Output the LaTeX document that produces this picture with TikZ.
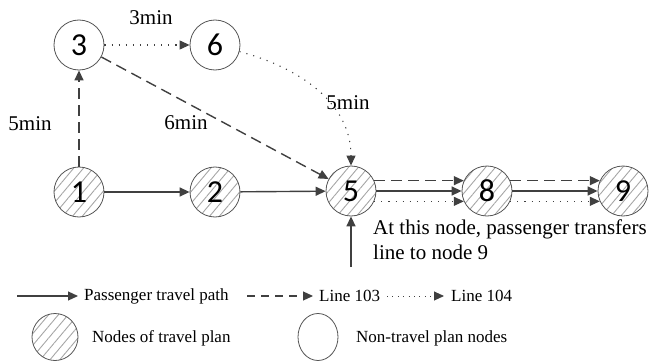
\documentclass[tikz,border=0pt]{standalone}
\usepackage{fontspec}
\setmainfont{Liberation Serif}
\newfontfamily\numfont{Carlito}
\usetikzlibrary{arrows.meta,patterns.meta,shapes.geometric}
\definecolor{ink}{HTML}{404040}
\definecolor{rim}{HTML}{555555}
\tikzset{
  stn/.style={circle,draw=rim,line width=0.8pt,minimum size=50pt,inner sep=0pt,
    font=\numfont\fontsize{32}{36}\selectfont},
  plan/.style={stn,pattern={Lines[angle=50,distance=7.5pt,line width=0.9pt]},pattern color=black!35},
  tip/.style={-{Triangle[length=10pt,width=9pt]}},
  walk/.style={tip,draw=ink,line width=1.4pt},
  dashln/.style={tip,draw=ink,line width=1.4pt,dash pattern=on 11pt off 6pt},
  dotln/.style={tip,draw=ink,line width=1.1pt,dash pattern=on 1.1pt off 6pt},
  lbl/.style={font=\rmfamily\fontsize{21}{25}\selectfont,inner sep=0pt},
  leg/.style={font=\rmfamily\fontsize{17}{20}\selectfont,inner sep=0pt,anchor=west},
}
\begin{document}
\begin{tikzpicture}[x=1pt,y=1pt]
\useasboundingbox (0,0) rectangle (651,-361);
% stations
\node[plan] (n1) at (79,-192) {1};
\node[plan] (n2) at (215,-192) {2};
\node[stn]  (n3) at (79,-45) {3};
\node[stn]  (n6) at (215,-45) {6};
\node[plan] (n5) at (351,-191) {5};
\node[plan] (n8) at (487,-191) {8};
\node[plan] (n9) at (623,-191) {9};
% connections
\draw[dashln] (n1) -- (n3);
\draw[dotln] (n3) -- (n6);
\draw[dashln] (n3) -- (n5);
\draw[dotln] (n6) to[out=-15,in=90] (n5);
\draw[walk] (n1) -- (n2);
\draw[walk] (n2) -- (n5);
\draw[dashln] (n5.24) -- (n8.156);
\draw[walk] (n5) -- (n8);
\draw[dotln] (n5.-24) -- (n8.-156);
\draw[dashln] (n8.24) -- (n9.156);
\draw[walk] (n8) -- (n9);
\draw[dotln] (n8.-24) -- (n9.-156);
\coordinate (below5) at (351,-267);
\draw[walk] (below5) -- (n5);
% travel times
\node[lbl] (t13) at (30,-124) {5min};
\node[lbl] (t36) at (151,-18) {3min};
\node[lbl] (t35) at (186,-123) {6min};
\node[lbl] (t65) at (348,-103) {5min};
\node[lbl,anchor=west,align=left] (note) at (373,-240) {At this node, passenger transfers\\line to node 9};
% legend
\coordinate (a1) at (17,-296); \coordinate (b1) at (78,-296);
\coordinate (a2) at (247,-296); \coordinate (b2) at (313,-296);
\coordinate (a3) at (387,-296); \coordinate (b3) at (444,-296);
\draw[walk,line width=1.2pt] (a1) -- (b1);
\draw[dashln,line width=1.2pt,dash pattern=on 8pt off 6pt] (a2) -- (b2);
\draw[dotln,line width=0.9pt,dash pattern=on 0.9pt off 4.5pt] (a3) -- (b3);
\node[leg] (l1) at (84,-296) {Passenger travel path};
\node[leg] (l2) at (319,-296) {Line 103};
\node[leg] (l3) at (451,-296) {Line 104};
\node[draw=rim,line width=0.8pt,ellipse,minimum width=46pt,minimum height=47pt,
  pattern={Lines[angle=50,distance=7.5pt,line width=0.9pt]},pattern color=black!35] (e1) at (55,-337) {};
\node[leg] (l4) at (92,-338) {Nodes of travel plan};
\node[draw=rim,line width=0.8pt,ellipse,minimum width=40pt,minimum height=47pt] (e2) at (318,-337) {};
\node[leg] (l5) at (356,-338) {Non-travel plan nodes};
\end{tikzpicture}
\end{document}
